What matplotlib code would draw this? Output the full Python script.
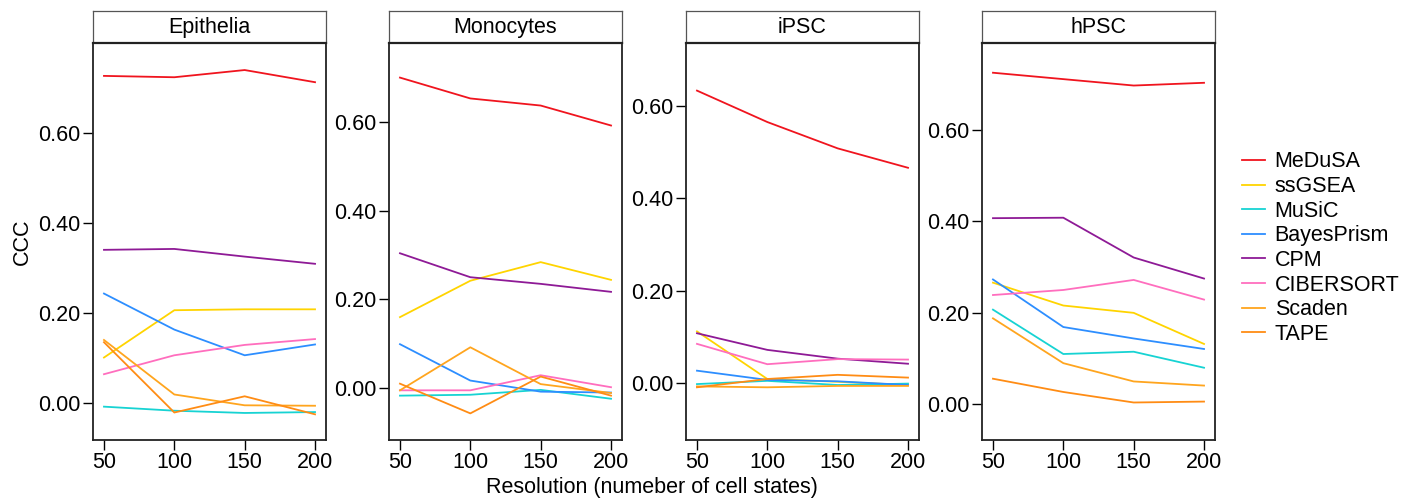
import numpy as np
import matplotlib
matplotlib.use('Agg')
import matplotlib.pyplot as plt

plt.rcParams['font.family'] = ['Liberation Sans', 'DejaVu Sans']

# Data
resolution = [50, 100, 150, 200]
panels = ['Epithelia', 'Monocytes', 'iPSC', 'hPSC']
methods = ['MeDuSA', 'ssGSEA', 'MuSiC', 'BayesPrism', 'CPM', 'CIBERSORT', 'Scaden', 'TAPE']
colors = ['#F0141E', '#FFD400', '#17D3D3', '#2D8EFF', '#8E1A96', '#FF6EBE', '#FFA51E', '#FF8C14']

epithelia = {
    'MeDuSA':     [0.727, 0.724, 0.740, 0.713],
    'ssGSEA':     [0.102, 0.207, 0.209, 0.209],
    'MuSiC':      [-0.007, -0.016, -0.021, -0.019],
    'BayesPrism': [0.244, 0.164, 0.107, 0.131],
    'CPM':        [0.341, 0.343, 0.326, 0.310],
    'CIBERSORT':  [0.065, 0.107, 0.130, 0.143],
    'Scaden':     [0.141, 0.020, -0.004, -0.005],
    'TAPE':       [0.136, -0.020, 0.016, -0.024],
}
monocytes = {
    'MeDuSA':     [0.700, 0.653, 0.637, 0.592],
    'ssGSEA':     [0.160, 0.242, 0.284, 0.244],
    'MuSiC':      [-0.017, -0.015, -0.004, -0.024],
    'BayesPrism': [0.099, 0.017, -0.008, -0.010],
    'CPM':        [0.304, 0.250, 0.235, 0.217],
    'CIBERSORT':  [-0.005, -0.005, 0.029, 0.002],
    'Scaden':     [-0.005, 0.092, 0.009, -0.011],
    'TAPE':       [0.010, -0.057, 0.026, -0.017],
}
ipsc = {
    'MeDuSA':     [0.633, 0.565, 0.508, 0.466],
    'ssGSEA':     [0.112, 0.009, 0.003, -0.004],
    'MuSiC':      [-0.002, 0.005, -0.004, -0.001],
    'BayesPrism': [0.027, 0.007, 0.004, -0.004],
    'CPM':        [0.108, 0.072, 0.053, 0.042],
    'CIBERSORT':  [0.085, 0.041, 0.052, 0.051],
    'Scaden':     [-0.007, -0.009, -0.006, -0.006],
    'TAPE':       [-0.009, 0.009, 0.018, 0.012],
}
hpsc = {
    'MeDuSA':     [0.725, 0.711, 0.697, 0.703],
    'ssGSEA':     [0.266, 0.216, 0.200, 0.132],
    'MuSiC':      [0.207, 0.110, 0.115, 0.080],
    'BayesPrism': [0.273, 0.169, 0.144, 0.121],
    'CPM':        [0.407, 0.408, 0.321, 0.275],
    'CIBERSORT':  [0.239, 0.250, 0.272, 0.229],
    'Scaden':     [0.188, 0.090, 0.050, 0.041],
    'TAPE':       [0.056, 0.027, 0.004, 0.006],
}
panel_data = [epithelia, monocytes, ipsc, hpsc]
ylims = [(-0.081, 0.80), (-0.117, 0.778), (-0.123, 0.736), (-0.078, 0.79)]

fs = 15.5
fig = plt.figure(figsize=(14.11, 5.01), dpi=100)
W, H = 1411.0, 501.0
lefts = [93, 389, 686, 982]
pw = 233
top, bottom, strip_top = 43, 440, 11

axes = []
for i, name in enumerate(panels):
    ax = fig.add_axes([lefts[i] / W, (H - bottom) / H, pw / W, (bottom - top) / H])
    data = panel_data[i]
    for m, c in zip(methods, colors):
        ax.plot(resolution, data[m], color=c, lw=1.3, label=m)
    ax.set_xlim(42.2, 207.8)
    ax.set_ylim(*ylims[i])
    ax.set_xticks(resolution)
    ax.set_yticks([0.0, 0.2, 0.4, 0.6])
    ax.set_yticklabels(['0.00', '0.20', '0.40', '0.60'])
    ax.tick_params(axis='both', direction='out', length=7, width=1, labelsize=fs,
                   colors='black', pad=2)
    for s in ax.spines.values():
        s.set_linewidth(1.3)
        s.set_color('#222222')
    axes.append(ax)

    # strip on top
    sax = fig.add_axes([lefts[i] / W, (H - top) / H, pw / W, (top - strip_top) / H])
    sax.set_xticks([])
    sax.set_yticks([])
    for s in sax.spines.values():
        s.set_linewidth(0.9)
        s.set_color('#555555')
    sax.spines['bottom'].set_linewidth(1.6)
    sax.spines['bottom'].set_color('#222222')
    sax.text(0.5, 0.47, name, ha='center', va='center', fontsize=fs,
             transform=sax.transAxes)

axes[0].set_ylabel('CCC', fontsize=fs, labelpad=4)
fig.text(652 / W, 1 - 487 / H, 'Resolution (numeber of cell states)', ha='center',
         va='center', fontsize=fs)

handles, labels = axes[0].get_legend_handles_labels()
fig.legend(handles, labels, loc='upper left', bbox_to_anchor=(1223 / W, 1 - 132 / H),
           frameon=False, fontsize=fs, handlelength=1.05, handletextpad=0.45,
           labelspacing=0.17)

fig.savefig('out.png', dpi=100)
